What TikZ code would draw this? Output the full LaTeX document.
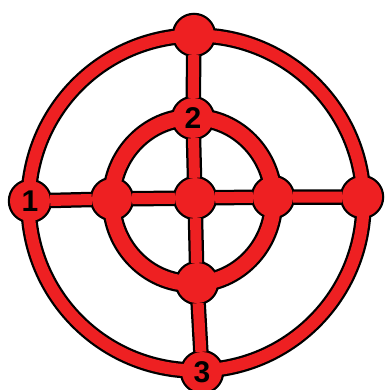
\documentclass[tikz,border=0pt]{standalone}
\usepackage{fontspec}
\setsansfont{Liberation Sans}
\usetikzlibrary{positioning}
\definecolor{signal}{RGB}{238,32,34}
\pgfdeclarelayer{outline}
\pgfdeclarelayer{band}
\pgfsetlayers{outline,band,main}

\begin{document}
\begin{tikzpicture}[x=1pt,y=-1pt,
  spot/.style={circle,fill=signal,inner sep=0pt,minimum size=40pt,font=\sffamily\bfseries\fontsize{30}{30}\selectfont},
  rim/.style={draw=signal,line width=12pt},
  rimout/.style={draw=black,line width=16.5pt},
  ring/.style={draw=signal,line width=15pt},
  ringout/.style={draw=black,line width=19.5pt},
  spoke/.style={draw=signal,line width=11pt},
  spokeout/.style={draw=black,line width=15.5pt},
]
\useasboundingbox (0,0) rectangle (384,390);
\coordinate (c-out) at (196,203);
\coordinate (c-in)  at (192.5,200.5);

% the joints, top to bottom, then left to right
\node[spot] (top)   at (194,35)  {};
\node[spot] (two)   at (193,118) {2};
\node[spot] (mid)   at (195,198) {};
\node[spot] (low)   at (197,283) {};
\node[spot] (three) at (202,372) {3};
\node[spot] (one)   at (30,201)  {1};
\node[spot] (west)  at (112,199) {};
\node[spot] (east)  at (273,197) {};
\node[spot] (right) at (362,197) {};

% black edge under everything
\begin{pgfonlayer}{outline}
  \foreach \n in {top,two,mid,low,three,one,west,east,right}
    \fill[black] (\n) circle (22.25pt);
  \draw[rimout]  (c-out) circle[radius=167.5pt];
  \draw[ringout] (c-in) ellipse[x radius=81pt,y radius=83pt];
  \draw[spokeout] (top) -- (two) -- (mid) -- (low) -- (three);
  \draw[spokeout] (one) -- (west) -- (mid) -- (east) -- (right);
\end{pgfonlayer}

% red bands
\begin{pgfonlayer}{band}
  \draw[rim]  (c-out) circle[radius=167.5pt];
  \draw[ring] (c-in) ellipse[x radius=81pt,y radius=83pt];
  \draw[spoke] (top) -- (two) -- (mid) -- (low) -- (three);
  \draw[spoke] (one) -- (west) -- (mid) -- (east) -- (right);
\end{pgfonlayer}
\end{tikzpicture}
\end{document}
